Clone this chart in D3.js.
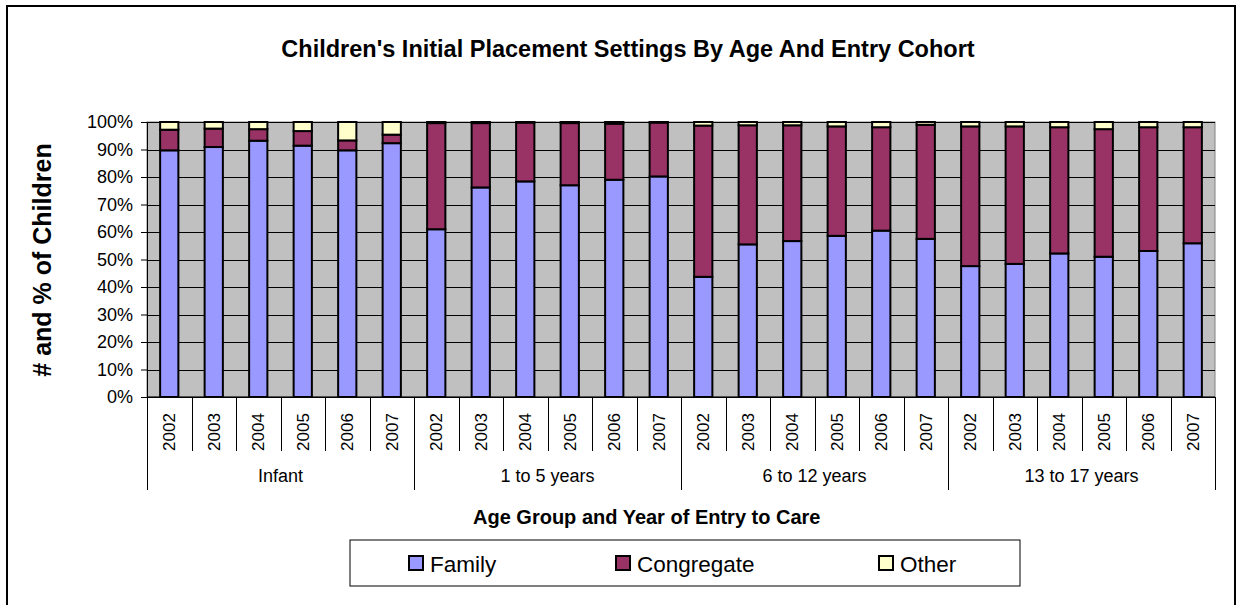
<!DOCTYPE html>
<html>
<head>
<meta charset="utf-8">
<script src="https://cdn.jsdelivr.net/npm/d3@7"></script>
<style>
  body { margin: 0; background: #fff; }
  svg { font-family: "Liberation Sans", Arial, sans-serif; }
</style>
</head>
<body>
<div id="chart"></div>
<script>
const groups = ["Infant", "1 to 5 years", "6 to 12 years", "13 to 17 years"];
const years = ["2002", "2003", "2004", "2005", "2006", "2007"];
const seriesNames = ["Family", "Congregate", "Other"];
const colors = ["#9999FF", "#993366", "#FFFFCC"];

// percent of children, one value per group/year, in order
const family = [
  89.7, 90.9, 93.2, 91.4, 89.7, 92.3,
  61.0, 76.2, 78.4, 77.0, 79.0, 80.2,
  43.7, 55.5, 56.7, 58.6, 60.5, 57.5,
  47.6, 48.4, 52.2, 51.0, 53.1, 55.9
];
const congregate = [
  7.5, 6.7, 4.2, 5.3, 3.6, 3.1,
  38.6, 23.4, 21.4, 22.6, 20.4, 19.6,
  55.0, 43.3, 42.1, 39.8, 37.6, 41.5,
  50.8, 50.0, 45.9, 46.4, 45.0, 42.2
];
const other = [
  2.8, 2.4, 2.6, 3.3, 6.7, 4.6,
  0.4, 0.4, 0.2, 0.4, 0.6, 0.2,
  1.3, 1.2, 1.2, 1.6, 1.9, 1.0,
  1.6, 1.6, 1.9, 2.6, 1.9, 1.9
];

const rows = [];
groups.forEach((g, gi) => years.forEach((yr, yi) => {
  const i = gi * years.length + yi;
  rows.push({ key: g + "|" + yr, group: g, year: yr,
    Family: family[i] / 100, Congregate: congregate[i] / 100, Other: other[i] / 100 });
}));

const W = 1243, H = 605;
const plot = { left: 147, top: 122, right: 1215, bottom: 397 };

const svg = d3.select("#chart").append("svg")
  .attr("width", W).attr("height", H);

svg.append("rect")
  .attr("x", 7).attr("y", 6).attr("width", 1228).attr("height", 610)
  .attr("fill", "#fff").attr("stroke", "#000").attr("stroke-width", 2);

const x = d3.scaleBand()
  .domain(rows.map(d => d.key))
  .range([plot.left, plot.right])
  .padding(0);

const y = d3.scaleLinear()
  .domain([0, 1])
  .range([plot.bottom, plot.top]);

svg.append("rect")
  .attr("x", plot.left).attr("y", plot.top)
  .attr("width", plot.right - plot.left).attr("height", plot.bottom - plot.top)
  .attr("fill", "#C0C0C0").attr("stroke", "#808080").attr("stroke-width", 1);

// grid lines
svg.append("g")
  .selectAll("line")
  .data(y.ticks(10))
  .join("line")
  .attr("x1", plot.left).attr("x2", plot.right)
  .attr("y1", d => Math.round(y(d)) + 0.5).attr("y2", d => Math.round(y(d)) + 0.5)
  .attr("stroke", "#000").attr("stroke-width", 1);

// y axis
const yAxis = svg.append("g")
  .attr("transform", `translate(${plot.left},0)`)
  .call(d3.axisLeft(y).ticks(10).tickFormat(d3.format(".0%")).tickSize(6).tickPadding(8));
yAxis.select(".domain").attr("stroke", "#000");
yAxis.selectAll(".tick line").attr("stroke", "#000");
yAxis.selectAll("text").attr("font-size", 18).attr("fill", "#000")
  .attr("font-family", "Liberation Sans, Arial, sans-serif");

// stacked bars
const stack = d3.stack().keys(seriesNames);
const stacked = stack(rows);
const barW = x.bandwidth() * 0.41;

svg.append("g")
  .selectAll("g")
  .data(stacked)
  .join("g")
  .attr("fill", (d, i) => colors[i])
  .selectAll("rect")
  .data(d => d)
  .join("rect")
  .attr("x", d => x(d.data.key) + x.bandwidth() / 2 - barW / 2)
  .attr("y", d => y(d[1]))
  .attr("width", barW)
  .attr("height", d => y(d[0]) - y(d[1]))
  .attr("stroke", "#000")
  .attr("stroke-width", 2);

// x axis line and category ticks
const xg = svg.append("g");
xg.append("line")
  .attr("x1", plot.left).attr("x2", plot.right)
  .attr("y1", plot.bottom).attr("y2", plot.bottom)
  .attr("stroke", "#000");

rows.forEach((d, i) => {
  const xl = Math.round(x(d.key)) + 0.5;
  const isGroupStart = i % years.length === 0;
  xg.append("line")
    .attr("x1", xl).attr("x2", xl)
    .attr("y1", plot.bottom).attr("y2", isGroupStart ? 490 : 451)
    .attr("stroke", "#000");
});
xg.append("line")
  .attr("x1", plot.right + 0.5).attr("x2", plot.right + 0.5)
  .attr("y1", plot.bottom).attr("y2", 490)
  .attr("stroke", "#000");

xg.selectAll(".yearLabel")
  .data(rows)
  .join("text")
  .attr("class", "yearLabel")
  .attr("transform", d => `translate(${x(d.key) + x.bandwidth() / 2 + 6},432) rotate(-90)`)
  .attr("text-anchor", "middle")
  .attr("font-size", 17)
  .text(d => d.year);

xg.selectAll(".groupLabel")
  .data(groups)
  .join("text")
  .attr("class", "groupLabel")
  .attr("x", g => {
    const first = x(g + "|" + years[0]);
    const last = x(g + "|" + years[years.length - 1]) + x.bandwidth();
    return (first + last) / 2;
  })
  .attr("y", 482)
  .attr("text-anchor", "middle")
  .attr("font-size", 18)
  .text(g => g);

// titles
svg.append("text")
  .attr("x", 628).attr("y", 57)
  .attr("text-anchor", "middle")
  .attr("font-size", 23.5).attr("font-weight", "bold")
  .text("Children's Initial Placement Settings By Age And Entry Cohort");

svg.append("text")
  .attr("transform", "translate(51,260) rotate(-90)")
  .attr("text-anchor", "middle")
  .attr("font-size", 25).attr("font-weight", "bold")
  .text("# and % of Children");

svg.append("text")
  .attr("x", 473).attr("y", 524)
  .attr("text-anchor", "start")
  .attr("font-size", 20).attr("font-weight", "bold")
  .text("Age Group and Year of Entry to Care");

// legend
const legend = svg.append("g");
legend.append("rect")
  .attr("x", 350).attr("y", 540).attr("width", 670).attr("height", 46)
  .attr("fill", "#fff").attr("stroke", "#000").attr("stroke-width", 1);

const legendX = [409, 616, 879];
seriesNames.forEach((s, i) => {
  legend.append("rect")
    .attr("x", legendX[i]).attr("y", 556)
    .attr("width", 14).attr("height", 14)
    .attr("fill", colors[i]).attr("stroke", "#000").attr("stroke-width", 2);
  legend.append("text")
    .attr("x", legendX[i] + 21).attr("y", 572)
    .attr("font-size", 22.5)
    .text(s);
});
</script>
</body>
</html>
